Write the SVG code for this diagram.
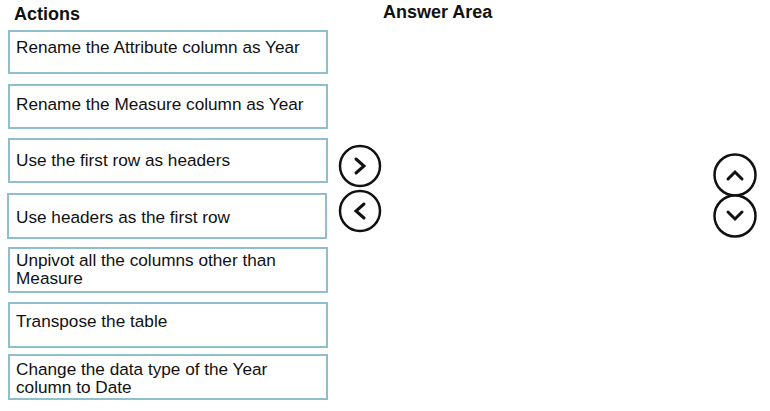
<svg xmlns="http://www.w3.org/2000/svg" width="770" height="411" viewBox="0 0 770 411">
<style>
.box{fill:#ffffff;stroke:#8fbfcc;stroke-width:2}
.t{font-family:"Liberation Sans",Arial,sans-serif;font-size:17.2px;fill:#111111}
.h{font-family:"Liberation Sans",Arial,sans-serif;font-size:18px;font-weight:bold;fill:#111111}
.c{fill:#ffffff;stroke:#111111;stroke-width:2.5}
.ch{fill:none;stroke:#111111;stroke-width:3;stroke-linecap:round;stroke-linejoin:miter}
</style>
<rect width="770" height="411" fill="#ffffff"/>
<text class="h" x="14" y="20">Actions</text>
<text class="h" x="383" y="18">Answer Area</text>
<g id="a1"><rect class="box" x="9" y="31" width="318" height="42"/><text class="t" x="16" y="53">Rename the Attribute column as Year</text></g>
<g id="a2"><rect class="box" x="9" y="85" width="318" height="43"/><text class="t" x="16" y="110">Rename the Measure column as Year</text></g>
<g id="a3"><rect class="box" x="9" y="139" width="318" height="43"/><text class="t" x="16" y="166">Use the first row as headers</text></g>
<g id="a4"><rect class="box" x="8" y="194" width="318" height="44"/><text class="t" x="16" y="223">Use headers as the first row</text></g>
<g id="a5"><rect class="box" x="9" y="248" width="318" height="44"/><text class="t" x="16" y="266">Unpivot all the columns other than</text><text class="t" x="16" y="284">Measure</text></g>
<g id="a6"><rect class="box" x="9" y="303" width="318" height="44"/><text class="t" x="16" y="327">Transpose the table</text></g>
<g id="a7"><rect class="box" x="9" y="355" width="318" height="44"/><text class="t" x="16" y="375">Change the data type of the Year</text><text class="t" x="16" y="393">column to Date</text></g>
<g id="btn-right"><circle class="c" cx="360" cy="166" r="20"/><polyline class="ch" points="356,159 364,166 356,173"/></g>
<g id="btn-left"><circle class="c" cx="360" cy="211" r="20"/><polyline class="ch" points="364,204 356,211 364,218"/></g>
<g id="btn-up"><circle class="c" cx="735" cy="175" r="20.5"/><polyline class="ch" points="728,179 735,172 742,179"/></g>
<g id="btn-down"><circle class="c" cx="735" cy="216" r="20.5"/><polyline class="ch" points="728,212 735,219 742,212"/></g>
<g id="connectors"></g>
</svg>
